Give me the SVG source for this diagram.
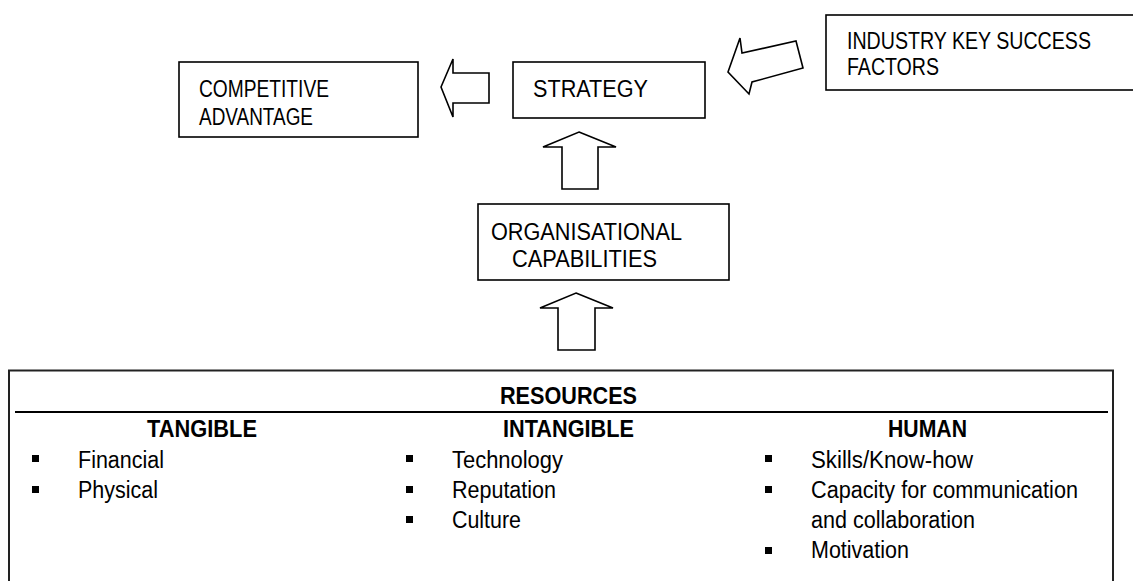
<svg xmlns="http://www.w3.org/2000/svg" width="1133" height="581" viewBox="0 0 1133 581">
<style>
.box{fill:#fff;stroke:#000;stroke-width:1.6}
.arrow{fill:#fff;stroke:#000;stroke-width:1.6;stroke-linejoin:miter}
.t{font-family:"Liberation Sans",Arial,sans-serif;font-size:23px;fill:#000}
.b{font-family:"Liberation Sans",Arial,sans-serif;font-size:23px;font-weight:bold;fill:#000}
.bul{fill:#000}
</style>
<rect width="1133" height="581" fill="#fff"/>
<g id="connectors">
<polygon class="arrow" points="441,87 453,59 453,73 489,73 489,103 453,103 453,117"/>
<polygon class="arrow" points="728,72 740,38 742,53 796,41 803,68 752,82 749,94"/>
<polygon class="arrow" points="579,132 616,147 598,147 598,189 562,189 562,147 543,147"/>
<polygon class="arrow" points="576,293 613,308 595,308 595,350 558,350 558,308 540,308"/>
</g>
<g id="competitive-advantage">
<rect class="box" x="179" y="62" width="239" height="75"/>
<text class="t" x="199" y="97" textLength="130" lengthAdjust="spacingAndGlyphs">COMPETITIVE</text>
<text class="t" x="199" y="125" textLength="114" lengthAdjust="spacingAndGlyphs">ADVANTAGE</text>
</g>
<g id="strategy">
<rect class="box" x="513" y="62" width="192" height="56"/>
<text class="t" x="533" y="97" textLength="115" lengthAdjust="spacingAndGlyphs">STRATEGY</text>
</g>
<g id="industry-ksf">
<rect class="box" x="826" y="15" width="320" height="75"/>
<text class="t" x="847" y="49" textLength="244" lengthAdjust="spacingAndGlyphs">INDUSTRY KEY SUCCESS</text>
<text class="t" x="847" y="75" textLength="92" lengthAdjust="spacingAndGlyphs">FACTORS</text>
</g>
<g id="organisational-capabilities">
<rect class="box" x="478" y="204" width="251" height="76"/>
<text class="t" x="491" y="240" textLength="191" lengthAdjust="spacingAndGlyphs">ORGANISATIONAL</text>
<text class="t" x="512" y="267" textLength="145" lengthAdjust="spacingAndGlyphs">CAPABILITIES</text>
</g>
<g id="resources">
<rect x="9" y="370.5" width="1104" height="240" fill="#fff" stroke="#222" stroke-width="2"/>
<line x1="15" y1="412" x2="1108" y2="412" stroke="#000" stroke-width="2"/>
<text class="b" x="568.5" y="404" text-anchor="middle" textLength="137" lengthAdjust="spacingAndGlyphs">RESOURCES</text>
<text class="b" x="202" y="437" text-anchor="middle" textLength="110" lengthAdjust="spacingAndGlyphs">TANGIBLE</text>
<text class="b" x="568.5" y="437" text-anchor="middle" textLength="131" lengthAdjust="spacingAndGlyphs">INTANGIBLE</text>
<text class="b" x="927.5" y="437" text-anchor="middle" textLength="79" lengthAdjust="spacingAndGlyphs">HUMAN</text>
<rect class="bul" x="32" y="455" width="7" height="7"/>
<rect class="bul" x="32" y="486" width="7" height="7"/>
<text class="t" x="78" y="468" textLength="86" lengthAdjust="spacingAndGlyphs">Financial</text>
<text class="t" x="78" y="498" textLength="80" lengthAdjust="spacingAndGlyphs">Physical</text>
<rect class="bul" x="406" y="455" width="7" height="7"/>
<rect class="bul" x="406" y="486" width="7" height="7"/>
<rect class="bul" x="406" y="516" width="7" height="7"/>
<text class="t" x="452" y="468" textLength="111" lengthAdjust="spacingAndGlyphs">Technology</text>
<text class="t" x="452" y="498" textLength="104" lengthAdjust="spacingAndGlyphs">Reputation</text>
<text class="t" x="452" y="528" textLength="69" lengthAdjust="spacingAndGlyphs">Culture</text>
<rect class="bul" x="765" y="455" width="7" height="7"/>
<rect class="bul" x="765" y="486" width="7" height="7"/>
<rect class="bul" x="765" y="547" width="7" height="7"/>
<text class="t" x="811" y="468" textLength="162" lengthAdjust="spacingAndGlyphs">Skills/Know-how</text>
<text class="t" x="811" y="498" textLength="267" lengthAdjust="spacingAndGlyphs">Capacity for communication</text>
<text class="t" x="811" y="528" textLength="164" lengthAdjust="spacingAndGlyphs">and collaboration</text>
<text class="t" x="811" y="558" textLength="98" lengthAdjust="spacingAndGlyphs">Motivation</text>
</g>
</svg>
